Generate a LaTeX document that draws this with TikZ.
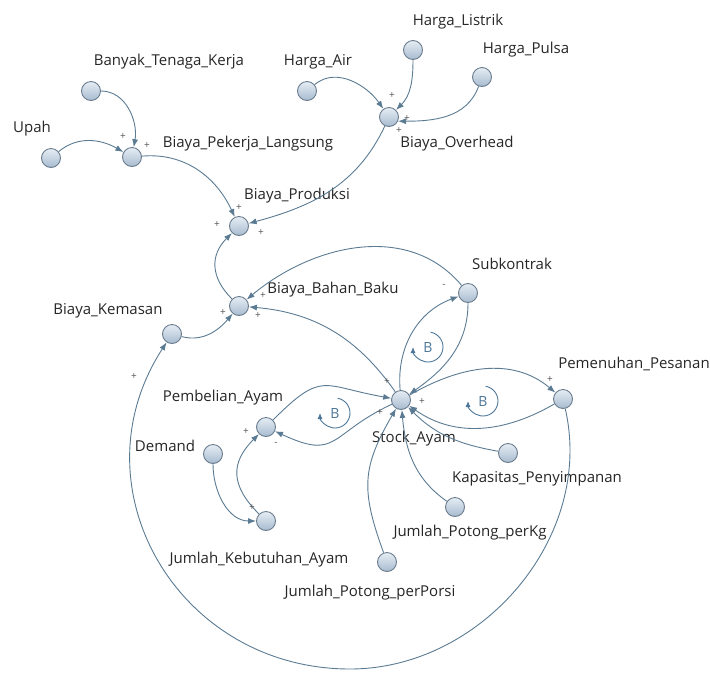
\documentclass[tikz,border=0pt]{standalone}
\usepackage{fontspec}
\setmainfont{Open Sans}
\usetikzlibrary{arrows.meta,positioning,calc}
\definecolor{Link}{HTML}{5B7B93}
\definecolor{VarTop}{HTML}{E6EDF4}
\definecolor{VarBot}{HTML}{A7BBCF}
\definecolor{VarRim}{HTML}{6A7C8E}
\definecolor{Loop}{HTML}{4C7698}
\definecolor{Sign}{HTML}{555555}

\begin{document}
\begin{tikzpicture}[x=1pt,y=1pt,>={Latex[length=8pt,width=6pt]},
    var/.style={circle,draw=VarRim,line width=0.9pt,top color=VarTop,bottom color=VarBot,minimum size=19pt,inner sep=0pt},
    lbl/.style={font=\fontsize{15}{17}\selectfont,text=black!85,inner sep=0pt},
    link/.style={->,draw=Link,line width=0.9pt},
    pol/.style={font=\fontsize{10}{11}\selectfont,text=Sign,inner sep=0pt},
    loopsym/.style={font=\fontsize{14}{16}\selectfont,text=Loop,inner sep=0pt},
    loopc/.style={draw=Loop,line width=0.9pt,-{Latex[length=6pt,width=5pt]}}]
  \useasboundingbox (0,0) rectangle (710,-673);
  % variables
  \node[var] (btk) at (91,-91) {};
  \node[var] (upah) at (51,-158) {};
  \node[var] (bpl) at (132,-157) {};
  \node[var] (hair) at (307,-91) {};
  \node[var] (hlis) at (413,-50) {};
  \node[var] (hpul) at (482,-77) {};
  \node[var] (bo) at (389,-117) {};
  \node[var] (bp) at (239,-226) {};
  \node[var] (bbb) at (239,-306) {};
  \node[var] (bk) at (172,-334) {};
  \node[var] (sub) at (468,-293) {};
  \node[var] (stock) at (401,-400) {};
  \node[var] (pem) at (563,-399) {};
  \node[var] (pemb) at (266,-427) {};
  \node[var] (demand) at (213,-454) {};
  \node[var] (jka) at (266,-521) {};
  \node[var] (kap) at (508,-453) {};
  \node[var] (jpk) at (455,-507) {};
  \node[var] (jpp) at (387,-562) {};
  % names
  \node[lbl] (btk-l) at (169,-62) {Banyak\_Tenaga\_Kerja};
  \node[lbl] (upah-l) at (32,-129) {Upah};
  \node[lbl] (bpl-l) at (248,-144) {Biaya\_Pekerja\_Langsung};
  \node[lbl] (hair-l) at (318,-62) {Harga\_Air};
  \node[lbl] (hlis-l) at (458,-22) {Harga\_Listrik};
  \node[lbl] (hpul-l) at (526,-50) {Harga\_Pulsa};
  \node[lbl] (bo-l) at (457,-144) {Biaya\_Overhead};
  \node[lbl] (bp-l) at (297,-196) {Biaya\_Produksi};
  \node[lbl] (bbb-l) at (333,-290) {Biaya\_Bahan\_Baku};
  \node[lbl] (bk-l) at (108,-311) {Biaya\_Kemasan};
  \node[lbl] (sub-l) at (512,-264) {Subkontrak};
  \node[lbl] (pem-l) at (634,-364) {Pemenuhan\_Pesanan};
  \node[lbl] (stock-l) at (414,-439) {Stock\_Ayam};
  \node[lbl] (pemb-l) at (223,-398) {Pembelian\_Ayam};
  \node[lbl] (demand-l) at (165,-446) {Demand};
  \node[lbl] (jka-l) at (259,-560) {Jumlah\_Kebutuhan\_Ayam};
  \node[lbl] (kap-l) at (537,-479) {Kapasitas\_Penyimpanan};
  \node[lbl] (jpk-l) at (470,-533) {Jumlah\_Potong\_perKg};
  \node[lbl] (jpp-l) at (370,-593) {Jumlah\_Potong\_perPorsi};
  % links
  \foreach \u/\v/\o/\n in {btk/bpl/0/80,upah/bpl/40/150,bpl/bp/5/115,hair/bo/40/125,hlis/bo/-90/45,
      bo/bp/-115/15,bk/bbb/-15/-130,sub/bbb/130/40,stock/bbb/125/-5,stock/sub/95/-160,sub/stock/-90/35,
      stock/pem/30/140,pem/stock/-150/-35,demand/jka/-90/180,kap/stock/170/-45,jpk/stock/145/-85}
    \draw[link] (\u) to[out=\o,in=\n] (\v);
  \draw[link] (hpul) to[out=-110,in=0] (bo.-25);
  \draw[link] (bbb) to[out=135,in=-135,looseness=1.2] (bp);
  \draw[link] (stock) to[out=-155,in=-25,looseness=1.5] (pemb);
  \draw[link] (pemb) to[out=45,in=170,looseness=1.5] (stock);
  \draw[link] (jka) to[out=135,in=-135,looseness=1.3] (pemb);
  \draw[link] (jpp) to[out=110,in=-120,looseness=1.2] (stock);
  \coordinate (arcbot) at (350,-669);
  \draw[link] (pem) to[out=-77,in=0] (arcbot) to[out=180,in=-123,looseness=1.18] (bk);
  % polarities
  \foreach \px/\py/\s [count=\i] in {147/146/+,123/137/+,239/208/+,392/96/+,407/119/+,399/131/+,
      261/233/+,217/225/+,223/313/+,263/296/+,258/316/+,444/286/-,387/382/+,422/402/+,380/413/+,
      550/380/+,276/444/-,246/432/+,252/508/+,134/377/+}
    \node[pol] (pol\i) at (\px,-\py) {\s};
  % loops
  \node[loopsym] (b1) at (428,-347) {B};
  \node[loopsym] (b2) at (483,-401) {B};
  \node[loopsym] (b3) at (335,-413) {B};
  \foreach \b in {b1,b2,b3}
    \draw[loopc] (\b.center) ++(80:15) arc[start angle=80,end angle=-180,radius=15];
\end{tikzpicture}
\end{document}
